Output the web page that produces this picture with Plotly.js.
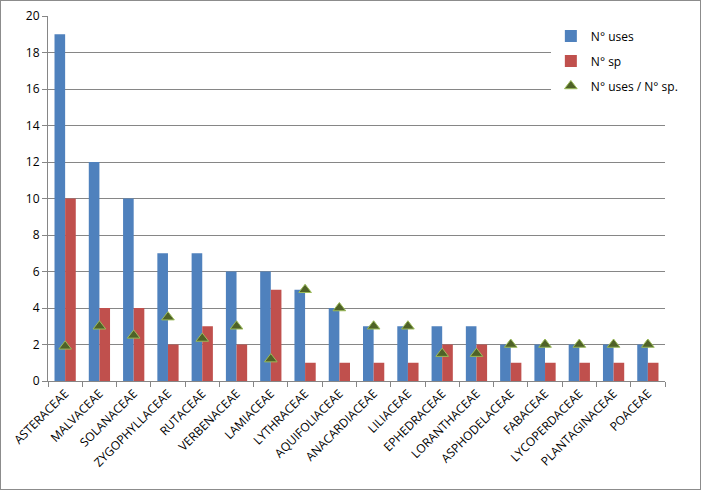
<!DOCTYPE html>
<html>
<head>
<meta charset="utf-8">
<script src="https://cdn.plot.ly/plotly-3.0.1.min.js"></script>
<style>
body { margin: 0; background: #fff; }
#chart { width: 699px; height: 488px; border: 1px solid #8c8c8c; }
</style>
</head>
<body>
<div id="chart"></div>
<script>
var families = ['ASTERACEAE', 'MALVACEAE', 'SOLANACEAE', 'ZYGOPHYLLACEAE', 'RUTACEAE',
    'VERBENACEAE', 'LAMIACEAE', 'LYTHRACEAE', 'AQUIFOLIACEAE', 'ANACARDIACEAE',
    'LILIACEAE', 'EPHEDRACEAE', 'LORANTHACEAE', 'ASPHODELACEAE', 'FABACEAE',
    'LYCOPERDACEAE', 'PLANTAGINACEAE', 'POACEAE'];
var nUses = [19, 12, 10, 7, 7, 6, 6, 5, 4, 3, 3, 3, 3, 2, 2, 2, 2, 2];
var nSp = [10, 4, 4, 2, 3, 2, 5, 1, 1, 1, 1, 2, 2, 1, 1, 1, 1, 1];
var usesPerSp = [1.9, 3, 2.5, 3.5, 2.33, 3, 1.2, 5, 4, 3, 3, 1.5, 1.5, 2, 2, 2, 2, 2];

var font = 'Open Sans, Noto Sans, sans-serif';

var traceUses = {
    type: 'bar',
    name: 'N° uses',
    x: families,
    y: nUses,
    legendgroup: 'a',
    marker: {color: '#4f81bd'}
};

var traceSp = {
    type: 'bar',
    name: 'N° sp',
    x: families,
    y: nSp,
    legendgroup: 'b',
    marker: {color: '#c0504d'}
};

var traceRatio = {
    type: 'scatter',
    mode: 'markers',
    name: 'N° uses / N° sp.',
    x: families,
    y: usesPerSp,
    legendgroup: 'c',
    marker: {
        symbol: 'triangle-up',
        size: 11,
        color: '#4f6228',
        line: {color: '#9bbb59', width: 1}
    }
};

var layout = {
    width: 699,
    height: 488,
    margin: {l: 47, r: 35, t: 15, b: 108, autoexpand: false},
    paper_bgcolor: '#fff',
    plot_bgcolor: '#fff',
    font: {family: font, size: 11, color: '#000'},
    barmode: 'group',
    bargap: 0.38,
    bargroupgap: 0,
    showlegend: true,
    legend: {
        x: 0.815,
        y: 0.985,
        xanchor: 'left',
        yanchor: 'top',
        bgcolor: '#fff',
        traceorder: 'grouped',
        tracegroupgap: 6,
        itemwidth: 30,
        font: {family: font, size: 12}
    },
    xaxis: {
        type: 'category',
        range: [-0.5, families.length - 0.5],
        automargin: false,
        tickangle: -45,
        ticks: 'outside',
        tickson: 'boundaries',
        ticklen: 5,
        tickcolor: '#868686',
        showline: true,
        linecolor: '#868686',
        showgrid: false,
        tickfont: {size: 12}
    },
    yaxis: {
        automargin: false,
        range: [0, 20],
        dtick: 2,
        ticks: 'outside',
        ticklen: 5,
        tickcolor: '#868686',
        showline: true,
        linecolor: '#868686',
        gridcolor: '#868686',
        zeroline: false,
        tickfont: {size: 12}
    }
};

Plotly.newPlot('chart', [traceUses, traceSp, traceRatio], layout, {displayModeBar: false});
</script>
</body>
</html>
